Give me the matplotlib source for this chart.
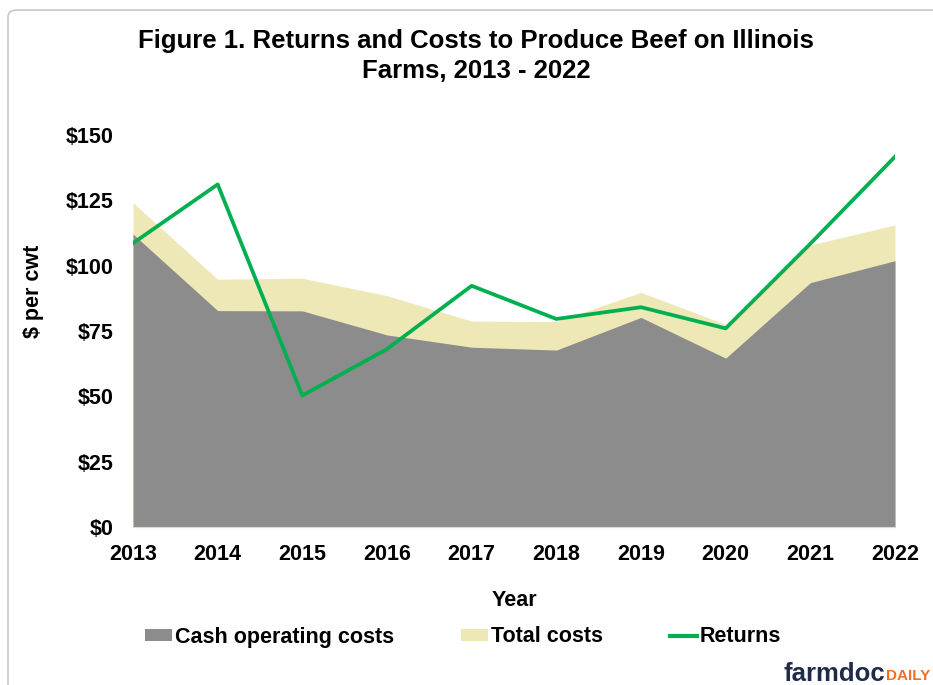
import matplotlib.pyplot as plt
from matplotlib.patches import FancyBboxPatch, Patch
from matplotlib.lines import Line2D

plt.rcParams['font.family'] = ['Liberation Sans', 'DejaVu Sans']
plt.rcParams['font.weight'] = 'bold'

years = [2013, 2014, 2015, 2016, 2017, 2018, 2019, 2020, 2021, 2022]
cash_costs = [112.1, 82.8, 82.7, 73.5, 68.8, 67.7, 80.2, 64.6, 93.5, 101.9]
total_costs = [124.1, 94.8, 95.2, 88.5, 78.8, 78.6, 89.8, 77.5, 107.9, 115.6]
returns = [108.6, 131.1, 50.3, 68.1, 92.3, 79.6, 84.1, 76.0, 108.4, 141.7]
yticks = [0, 25, 50, 75, 100, 125, 150]

gray = '#8c8c8c'
yellow = '#ede8b6'
green = '#00b050'

W, H = 933, 685
fig = plt.figure(figsize=(W / 100, H / 100), dpi=100)

# outer frame of the original chart object (runs off the right/bottom edge)
frame = FancyBboxPatch((8 / W, -0.05), 1.1, 1 - 10 / H + 0.05,
                       boxstyle='round,pad=0,rounding_size=0.01',
                       transform=fig.transFigure, fill=False,
                       edgecolor='#c8c8c8', linewidth=1.2)
fig.patches.append(frame)

ax = fig.add_axes([133 / W, 1 - 527 / H, (895 - 133) / W, (527 - 135) / H])

ax.fill_between(years, 0, total_costs, color=yellow, linewidth=0)
ax.fill_between(years, 0, cash_costs, color=gray, linewidth=0)
ax.plot(years, returns, color=green, linewidth=2.7)

ax.set_xlim(2013, 2022)
ax.set_ylim(0, 150)
ax.set_xticks(years)
ax.set_xticklabels([str(y) for y in years])
ax.set_yticks(yticks)
ax.set_yticklabels(['$' + str(v) for v in yticks])
ax.tick_params(axis='both', length=0, labelsize=15.5)
ax.tick_params(axis='y', pad=14)
ax.tick_params(axis='x', pad=12)

for s in ['top', 'right', 'left']:
    ax.spines[s].set_visible(False)
ax.spines['bottom'].set_color('#d9d9d9')

fig.text(514 / W, 1 - 600 / H, 'Year', ha='center', va='center', fontsize=15.5)
fig.text(33 / W, 1 - 291 / H, '$ per cwt', ha='center', va='center',
         rotation=90, fontsize=15.5)

fig.text(476 / W, 1 - 56 / H,
         'Figure 1. Returns and Costs to Produce Beef on Illinois\nFarms, 2013 - 2022',
         ha='center', va='center', fontsize=18.5, linespacing=1.3)

handles = [Patch(facecolor=gray, edgecolor='none'),
           Patch(facecolor=yellow, edgecolor='none'),
           Line2D([0], [0], color=green, linewidth=3)]
labels = ['Cash operating costs', 'Total costs', 'Returns']
fig.legend(handles, labels, loc='center', bbox_to_anchor=(463 / W, 1 - 637 / H),
           ncol=3, frameon=False, fontsize=15.5, handlelength=1.25, handleheight=0.5,
           handletextpad=0.15, columnspacing=3.1, borderpad=0, borderaxespad=0)

# farmdocDAILY logo
t = fig.text(784 / W, 1 - 674 / H, 'farmdoc', color='#1f2b4a', fontsize=18.5,
             va='center', ha='left')
fig.canvas.draw()
bb = t.get_window_extent()
fig.text(bb.x1 / W, 1 - 676 / H, 'DAILY', color='#f37021', fontsize=11,
         va='center', ha='left')

fig.savefig('out.png', dpi=100)
